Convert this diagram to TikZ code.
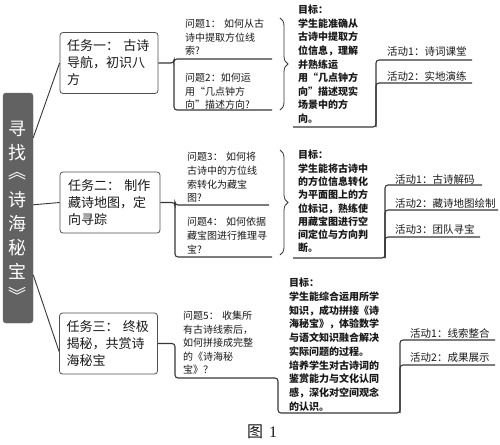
\documentclass[tikz,border=0pt]{standalone}
\usepackage{fontspec}
\setmainfont{Noto Sans CJK SC}
\newfontfamily\capfont{Liberation Serif}
\usetikzlibrary{decorations.pathreplacing,calc}
\definecolor{rootgray}{RGB}{98,98,98}
\definecolor{linegray}{RGB}{55,55,55}
\definecolor{boxline}{RGB}{80,80,80}
\definecolor{txtc}{RGB}{25,25,25}
\newcommand\fwlq{\makebox[1em][r]{“}}
\newcommand\fwrq{\makebox[1em][l]{”}}
\begin{document}
\begin{tikzpicture}[x=1pt,y=-1pt,
  conn/.style={draw=linegray, line width=1.1pt, rounded corners=3pt},
  spoke/.style={draw=linegray, line width=0.9pt},
  bracestyle/.style={draw=linegray, line width=0.8pt, decorate, decoration={brace, amplitude=8pt}},
  rootbox/.style={fill=rootgray, draw=rootgray, rounded corners=3pt, minimum width=30pt, minimum height=230pt, inner sep=0pt},
  rootchar/.style={inner sep=0pt, text=white, font=\fontsize{18}{18}\selectfont},
  taskbox/.style={draw=boxline, fill=white, line width=0.8pt, rounded corners=3pt, text width=84pt, align=left, inner xsep=7pt, inner ysep=0pt, minimum height=61pt, text=txtc, font=\fontsize{13}{17}\selectfont},
  qtext/.style={anchor=base west, inner sep=0pt, text width=#1, align=left, text=txtc, font=\fontsize{10}{13.6}\selectfont},
  gtext/.style={anchor=base west, inner sep=0pt, text width=#1, align=left, text=txtc, font=\fontsize{10}{13.6}\selectfont\bfseries},
  atext/.style={anchor=base west, inner sep=0pt, text width=110pt, align=left, text=txtc, font=\fontsize{10.5}{12}\selectfont},
]
\useasboundingbox[fill=white] (0,0) rectangle (500,444);

% root
\node[rootbox] (root) at (18,208) {};
\foreach \c [count=\i] in {寻,找,︽,诗,海,秘,宝,︾}{
  \node[rootchar] (rc\i) at (18,{129+23.7*(\i-1)}) {\c};
}

% tasks
\node[taskbox, minimum width=98pt] (t1) at (109,63) {任务一： 古诗\\导航，初识八\\方};
\node[taskbox, minimum width=100pt] (t2) at (110,202.5) {任务二： 制作\\藏诗地图，定\\向寻踪};
\node[taskbox, minimum width=97pt] (t3) at (108.5,343.5) {任务三： 终极\\揭秘，共赏诗\\海秘宝};

\draw[spoke] ($(root.north east)+(0,45)$) -- (t1.west);
\draw[spoke] ($(root.north east)+(0,112)$) -- (t2.west);
\draw[spoke] ($(root.north east)+(0,182)$) -- ($(t3.west)+(0,8)$);

% ---------- group 1 ----------
\node[qtext=92pt] (q1) at (185,27.8) {问题1： 如何从古\\诗中提取方位线\\索?};
\node[qtext=92pt] (q2) at (185,81.8) {问题2：如何运\\用\fwlq 几点钟方\\向\fwrq 描述方向?};
\coordinate (j1) at (174,63);
\draw[conn] (t1.east) -- (j1) -- (174,59) -- (272,59);
\draw[conn] (j1) -- (174,110) -- (272,110);
\draw[bracestyle] (280,18) -- (280,110);
\node[gtext=80pt] (g1) at (298,13.8) {目标：\\学生能准确从\\古诗中提取方\\位信息，理解\\并熟练运\\用\fwlq 几点钟方\\向\fwrq 描述现实\\场景中的方\\向。};
\coordinate (k1) at (376,127);
\draw[conn] (293,127) -- (k1) -- (376,60) -- (472,60);
\draw[conn] (k1) -- (376,83) -- (472,83);
\node[atext] (a11) at (387,56) {活动1：诗词课堂};
\node[atext] (a12) at (387,80) {活动2：实地演练};

% ---------- group 2 ----------
\node[qtext=92pt] (q3) at (187,160.8) {问题3： 如何将\\古诗中的方位线\\索转化为藏宝\\图?};
\node[qtext=92pt] (q4) at (187,225.8) {问题4： 如何依据\\藏宝图进行推理寻\\宝?};
\coordinate (j2) at (175,202.5);
\draw[conn] (t2.east) -- (j2) -- (175,205) -- (269,205);
\draw[conn] (j2) -- (175,257) -- (272,257);
\draw[bracestyle] (280,150) -- (280,255);
\node[gtext=90pt, font=\fontsize{10}{13.3}\selectfont\bfseries] (g2) at (298,158.8) {目标：\\学生能将古诗中\\的方位信息转化\\为平面图上的方\\位标记，熟练使\\用藏宝图进行空\\间定位与方向判\\断。};
\coordinate (k2) at (385,258);
\draw[conn] (293,258) -- (k2) -- (385,185) -- (482,185);
\draw[conn] (k2) -- (385,210) -- (498,210);
\draw[conn] (k2) -- (385,237) -- (480,237);
\node[atext] (a21) at (395,183) {活动1：古诗解码};
\node[atext] (a22) at (395,207) {活动2：藏诗地图绘制};
\node[atext] (a23) at (395,233) {活动3：团队寻宝};

% ---------- group 3 ----------
\node[qtext=92pt, font=\fontsize{10}{13.5}\selectfont] (q5) at (183,319.8) {问题5： 收集所\\有古诗线索后，\\如何拼接成完整\\的《诗海秘\\宝》？};
\coordinate (k3) at (400,413);
\draw[conn] (t3.east) -- (175,343.5) -- (175,378) -- (278,378) -- (278,413) -- (k3) -- (400,340) -- (495,340);
\draw[conn] (k3) -- (400,365) -- (495,365);
\node[gtext=100pt, font=\fontsize{10}{13.7}\selectfont\bfseries] (g3) at (289,286.8) {目标：\\学生能综合运用所学\\知识，成功拼接《诗\\海秘宝》，体验数学\\与语文知识融合解决\\实际问题的过程。\\培养学生对古诗词的\\鉴赏能力与文化认同\\感，深化对空间观念\\的认识。};
\node[atext] (a31) at (410,337) {活动1：线索整合};
\node[atext] (a32) at (410,361) {活动2：成果展示};

% caption
\node[inner sep=0pt, text=txtc, font=\fontsize{16}{16}\selectfont] (cap) at (262,432) {图\hspace{6pt}{\capfont 1}};
\end{tikzpicture}
\end{document}
